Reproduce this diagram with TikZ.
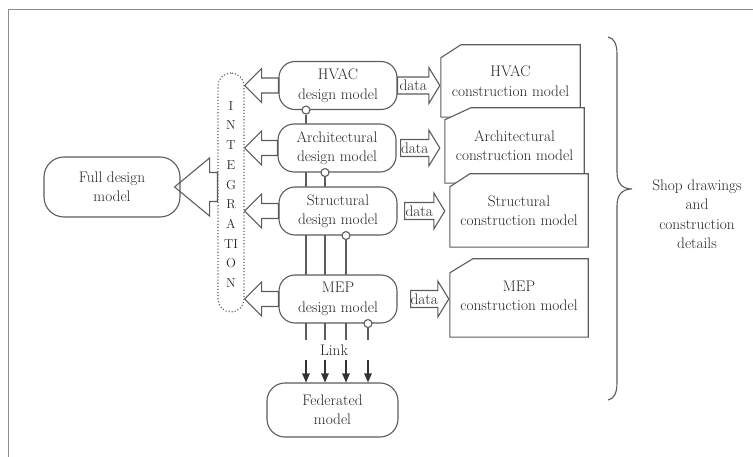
\documentclass[tikz,border=0pt]{standalone}
\usepackage{fontspec}
\usetikzlibrary{calc,backgrounds,arrows.meta}

\definecolor{ink}{HTML}{5C5C5C}
\definecolor{txt}{HTML}{262626}
\definecolor{framegray}{HTML}{8C8C8C}

\newcommand\mainf{\fontsize{15.3}{19.5}\selectfont}
\newcommand\letterf{\fontsize{13}{19.7}\selectfont}

% #1 start, #2 tip, #3 shaft half-height, #4 head half-height, #5 signed head length
\newcommand\blockarrow[5]{%
  \draw[blockarrow] ($(#1)+(0,#3)$) -- ($(#2)+(#5,#3)$) -- ($(#2)+(#5,#4)$) -- (#2)
    -- ($(#2)+(#5,-#4)$) -- ($(#2)+(#5,-#3)$) -- ($(#1)+(0,-#3)$) -- cycle;}

\tikzset{
  design/.style={draw=ink, fill=white, line width=1.1pt, rounded corners=16pt,
    minimum width=118pt, minimum height=48pt, inner sep=0pt, align=center,
    text=txt, font=\mainf},
  conframe/.style={inner sep=0pt},
  conedge/.style={draw=ink, fill=white, line width=1.1pt, line join=miter},
  contxt/.style={align=center, text=txt, font=\mainf, inner sep=0pt},
  blockarrow/.style={draw=ink, fill=white, line width=1.1pt, line join=miter},
  datalbl/.style={text=txt, font=\mainf, inner sep=0pt},
  linkdot/.style={circle, draw=ink, fill=white, line width=1.1pt,
    minimum size=8pt, inner sep=0pt},
  linkline/.style={draw=ink, line width=1.1pt},
  linkarrow/.style={draw=black!80, line width=1.1pt,
    -{Triangle[length=9pt,width=7.5pt]}},
}

\begin{document}
\begin{tikzpicture}[x=1pt, y=-1pt]
\useasboundingbox (0,0) rectangle (753,457);

% page frame
\draw[framegray, line width=1pt] (8,457) -- (8,10) -- (753,10);

% design models
\node[design] (hvac)   at (338,85.5) {HVAC\\design model};
\node[design] (arch)   at (337,148)  {Architectural\\design model};
\node[design] (struct) at (338,211)  {Structural\\design model};
\node[design] (mep)    at (338,299)  {MEP\\design model};

\node[design, minimum width=131pt, minimum height=54pt, rounded corners=18pt]
  (fed) at (332.5,410) {Federated\\model};
\node[design, minimum width=136pt, minimum height=60pt, rounded corners=20pt]
  (full) at (112,187) {Full design\\model};

% integration column
\node[draw=ink, dotted, line width=1.1pt, rounded corners=13pt,
  minimum width=26pt, minimum height=239pt, inner sep=0pt] (integ) at (231,192.5) {};
\node[align=center, text=txt, font=\letterf, inner sep=0pt] (integtxt) at (231,194.5)
  {I\\N\\T\\E\\G\\R\\A\\TI\\O\\N};

% construction models (stacked sheets with a cut corner)
\node[conframe, minimum width=139pt, minimum height=72pt] (hvacc) at (510.5,81) {};
\draw[conedge] ($(hvacc.north west)+(0,13)$) -- ($(hvacc.north west)+(20,0)$)
  -- (hvacc.north east) -- (hvacc.south east) -- (hvacc.south west) -- cycle;
\node[contxt] (hvacct) at (hvacc) {HVAC\\construction model};

\node[conframe, minimum width=139pt, minimum height=75pt] (archc) at (514.5,145.5) {};
\draw[conedge] ($(archc.north west)+(0,12)$) -- ($(archc.north west)+(26,0)$)
  -- (archc.north east) -- (archc.south east) -- (archc.south west) -- cycle;
\node[contxt] (archct) at (archc) {Architectural\\construction model};

\node[conframe, minimum width=138pt, minimum height=73pt] (structc) at (519,210.5) {};
\draw[conedge] ($(structc.north west)+(0,13)$) -- ($(structc.north west)+(20,0)$)
  -- (structc.north east) -- (structc.south east) -- (structc.south west) -- cycle;
\node[contxt] (structct) at (structc) {Structural\\construction model};

\node[conframe, minimum width=138pt, minimum height=78pt] (mepc) at (519,298) {};
\draw[conedge] ($(mepc.north west)+(0,14)$) -- ($(mepc.north west)+(23,0)$)
  -- (mepc.north east) -- (mepc.south east) -- (mepc.south west) -- cycle;
\node[contxt] (mepct) at ($(mepc)+(0,-2)$) {MEP\\construction model};

% arrows into the integration column
\blockarrow{hvac.west}{integ.east |- hvac.west}{7.5}{17}{17}
\blockarrow{arch.west}{integ.east |- arch.west}{7.5}{17}{17}
\blockarrow{struct.west}{integ.east |- struct.west}{7.5}{17}{17}
\blockarrow{mep.west}{integ.east |- mep.west}{7.5}{17}{17}

% integration to the full design model
\draw[blockarrow, fill=none] ($(integ.west |- full.east)+(0,14.5)$) -- ($(full.east)+(29,14.5)$)
  -- ($(full.east)+(29,29)$) -- ($(full.east)+(-6,0)$) -- ($(full.east)+(29,-29)$)
  -- ($(full.east)+(29,-14.5)$) -- ($(integ.west |- full.east)+(0,-14.5)$) -- cycle;

% data exchange to construction models
\coordinate (ds1) at (hvac.east);
\coordinate (dt1) at ($(hvacc.west |- hvac.east)+(-1,0)$);
\coordinate (ds2) at ($(arch.east)+(4,0)$);
\coordinate (dt2) at ($(archc.west |- arch.east)+(-5,0)$);
\coordinate (ds3) at ($(struct.east)+(7,0)$);
\coordinate (dt3) at ($(structc.west |- struct.east)+(-5,0)$);
\coordinate (ds4) at ($(mep.east)+(13,0)$);
\coordinate (dt4) at ($(mepc.west |- mep.east)+(-1,0)$);
\blockarrow{ds1}{dt1}{8.5}{18}{-11}
\blockarrow{ds2}{dt2}{8.5}{18}{-11}
\blockarrow{ds3}{dt3}{8.5}{18}{-11}
\blockarrow{ds4}{dt4}{8.5}{18}{-11}
\node[datalbl] (data1) at ($(ds1)!0.5!($(dt1)+(-11,0)$)$) {data};
\node[datalbl] (data2) at ($(ds2)!0.5!($(dt2)+(-11,0)$)$) {data};
\node[datalbl] (data3) at ($(ds3)!0.5!($(dt3)+(-11,0)$)$) {data};
\node[datalbl] (data4) at ($(ds4)!0.5!($(dt4)+(-11,0)$)$) {data};

% links to the federated model
\node[linkdot] (l1) at ($(hvac.south)+(-32,0)$) {};
\node[linkdot] (l2) at ($(arch.south)+(-12,0)$) {};
\node[linkdot] (l3) at ($(struct.south)+(8,0)$) {};
\node[linkdot] (l4) at ($(mep.south)+(30,0)$) {};
\node[text=txt, font=\mainf, inner sep=0pt, minimum height=19pt] (lk) at (334,350) {Link};

\begin{scope}[on background layer]
  \draw[linkline] (l1.south) -- (l1 |- lk.north);
  \draw[linkline] (l2.south) -- (l2 |- lk.north);
  \draw[linkline] (l3.south) -- (l3 |- lk.north);
  \draw[linkline] (l4.south) -- (l4 |- lk.north);
\end{scope}
\draw[linkarrow] (l1 |- lk.south) -- (l1 |- fed.north);
\draw[linkarrow] (l2 |- lk.south) -- (l2 |- fed.north);
\draw[linkarrow] (l3 |- lk.south) -- (l3 |- fed.north);
\draw[linkarrow] (l4 |- lk.south) -- (l4 |- fed.north);

% brace over the construction models
\draw[ink, line width=1.1pt] (608,37) .. controls (614,38) and (617,44) .. (617,54)
  -- (617,172) .. controls (617,183) and (622,189) .. (632,189)
  .. controls (622,189) and (617,195) .. (617,206)
  -- (617,383) .. controls (617,393) and (614,399) .. (608,400);
\node[align=center, text=txt, font=\mainf, inner sep=0pt] (shop) at (697,214)
  {Shop drawings\\and\\construction\\details};
\end{tikzpicture}
\end{document}
